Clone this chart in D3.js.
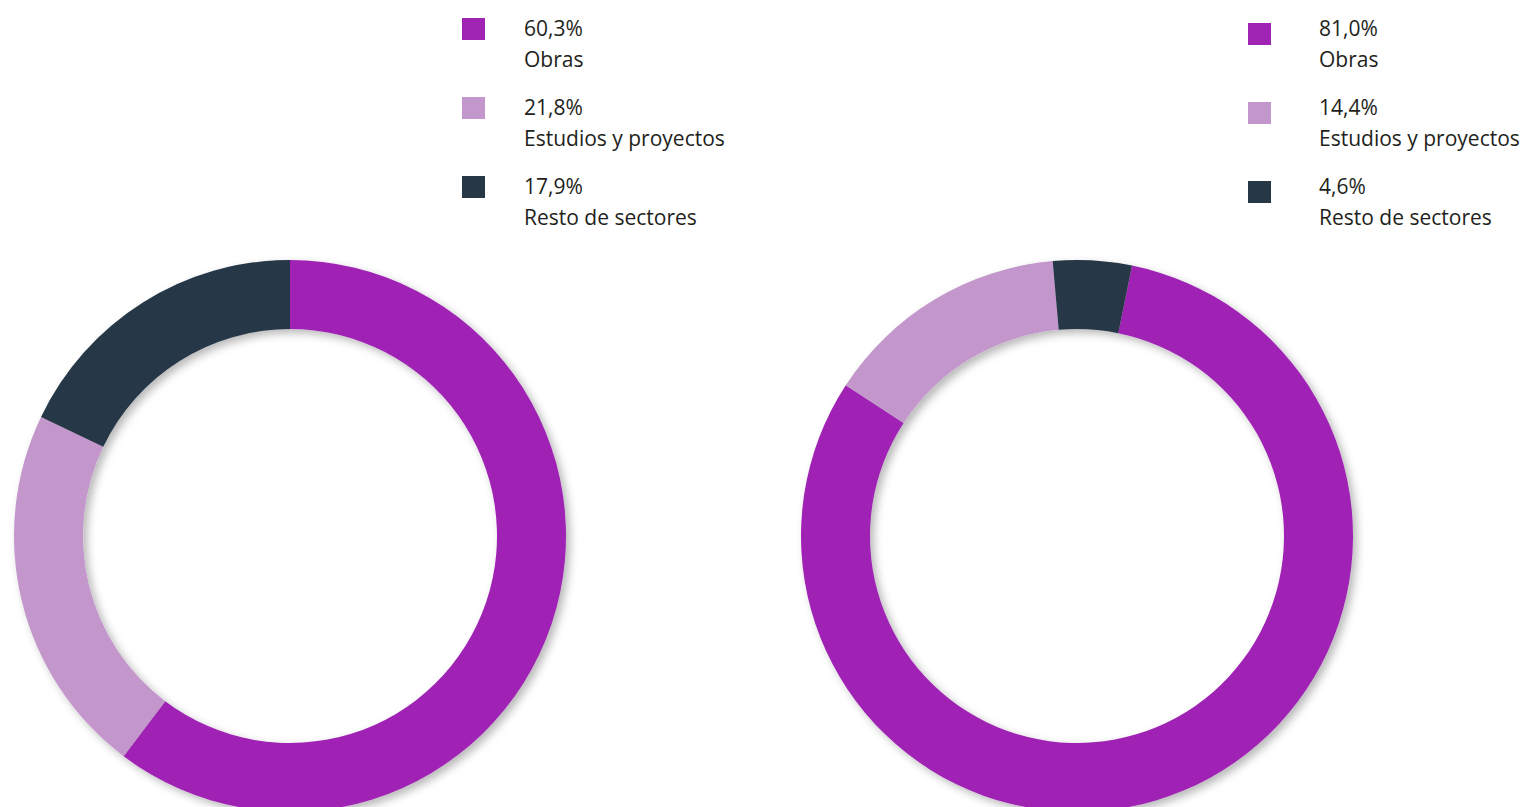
<!DOCTYPE html>
<html>
<head>
<meta charset="utf-8">
<script src="https://cdn.jsdelivr.net/npm/d3@7"></script>
<style>
  html, body { margin: 0; padding: 0; background: #fff; }
  svg { display: block; }
  text { font-family: "Open Sans", "Noto Sans", sans-serif; fill: #231f20; }
</style>
</head>
<body>
<svg id="chart" width="1526" height="807"></svg>
<script>
// Sector shares (%) for each donut
const categories = ["Obras", "Estudios y proyectos", "Resto de sectores"];
const valuesLeft = [60.3, 21.8, 17.9];
const valuesRight = [81.0, 14.4, 4.6];
const labelsLeft = ["60,3%", "21,8%", "17,9%"];
const labelsRight = ["81,0%", "14,4%", "4,6%"];
const colors = ["#9f24b4", "#c397cc", "#263746"];

const svg = d3.select("#chart");

// soft shadow under the rings
const defs = svg.append("defs");
const f = defs.append("filter").attr("id", "ringShadow")
  .attr("x", "-10%").attr("y", "-10%").attr("width", "120%").attr("height", "120%");
f.append("feDropShadow").attr("dx", 4).attr("dy", 4).attr("stdDeviation", 4)
  .attr("flood-color", "#000").attr("flood-opacity", 0.28);

const color = d3.scaleOrdinal().domain(categories).range(colors);

function donut(values, cx, cy, startDeg) {
  const start = startDeg * Math.PI / 180;
  const pie = d3.pie().sort(null).value(d => d.v)
    .startAngle(start).endAngle(start + 2 * Math.PI);
  const arc = d3.arc().innerRadius(207).outerRadius(276);
  const g = svg.append("g").attr("transform", `translate(${cx},${cy})`)
    .attr("filter", "url(#ringShadow)");
  g.selectAll("path")
    .data(pie(values.map((v, i) => ({ v, c: categories[i] }))))
    .join("path")
    .attr("d", arc)
    .attr("fill", d => color(d.data.c));
}

function legend(labels, sqX, sqY0, txtX) {
  const step = 79;
  const g = svg.append("g");
  categories.forEach((c, i) => {
    g.append("rect")
      .attr("x", sqX).attr("y", sqY0 + i * step)
      .attr("width", 23).attr("height", 22)
      .attr("fill", color(c));
    g.append("text")
      .attr("x", txtX).attr("y", 36 + i * step)
      .attr("font-size", 21)
      .text(labels[i]);
    g.append("text")
      .attr("x", txtX).attr("y", 67 + i * step)
      .attr("font-size", 21)
      .text(c);
  });
}

donut(valuesLeft, 290, 536, 0);
donut(valuesRight, 1077, 536, 11.5);
legend(labelsLeft, 462, 18, 524);
legend(labelsRight, 1248, 23, 1319);
</script>
</body>
</html>
